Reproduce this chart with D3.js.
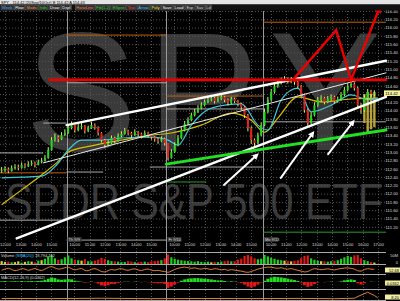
<!DOCTYPE html>
<html>
<head>
<meta charset="utf-8">
<script src="https://cdn.jsdelivr.net/npm/d3@7"></script>
<style>
body { margin: 0; background: #000; overflow: hidden; }
text { font-family: "Liberation Sans", Arial, sans-serif; }
</style>
</head>
<body>
<div id="chart"></div>
<script>
// ---- data (13-min bars, 4 sessions) ----
const closes = [
  // day 0
  112.57,112.59,112.54,112.62,112.64,112.62,112.69,112.66,112.71,112.74,112.69,112.76,112.79,112.86,113.05,113.29,113.36,113.31,113.41,113.46,
  // day 1
  113.58,113.65,113.53,113.60,113.63,113.51,113.58,113.65,113.60,113.46,113.29,113.17,113.22,113.34,113.27,113.39,113.44,113.51,113.46,113.41,
  113.48,113.44,113.39,113.46,113.41,113.36,113.32,113.27,113.32,113.22,
  // day 2
  112.86,113.00,113.17,113.34,113.53,113.68,113.77,113.89,113.97,114.06,114.13,114.21,114.26,114.30,114.23,114.28,114.33,114.26,114.18,114.28,
  114.23,114.16,114.09,113.89,113.58,113.29,113.22,113.41,113.65,
  // day 3
  113.97,114.26,114.45,114.59,114.67,114.74,114.76,114.71,114.74,114.69,114.59,114.38,114.01,113.70,113.89,114.13,114.26,114.30,114.21,114.28,
  114.33,114.23,114.28,114.38,114.50,114.59,114.64,114.54,114.13,114.01,114.30,114.45,114.40,114.42
];
const highs = [
  112.64,112.66,112.63,112.68,112.71,112.70,112.75,112.73,112.78,112.80,112.77,112.82,112.86,112.93,113.12,113.36,113.45,113.40,113.48,113.55,
  113.66,113.74,113.67,113.68,113.70,113.65,113.64,113.73,113.69,113.62,113.48,113.32,113.29,113.40,113.37,113.45,113.50,113.58,113.54,113.49,
  113.55,113.51,113.47,113.52,113.49,113.44,113.39,113.35,113.38,113.35,
  113.05,113.07,113.24,113.41,113.60,113.75,113.84,113.95,114.04,114.13,114.20,114.27,114.32,114.37,114.33,114.34,114.40,114.35,114.29,114.33,
  114.31,114.26,114.19,114.11,113.92,113.62,113.33,113.47,113.72,
  114.05,114.33,114.52,114.66,114.74,114.80,114.83,114.80,114.81,114.78,114.72,114.62,114.41,114.05,113.96,114.20,114.33,114.37,114.33,114.35,
  114.39,114.36,114.34,114.45,114.57,114.66,114.72,114.68,114.58,114.18,114.37,114.52,114.50,114.49
];
const lows = [
  112.50,112.52,112.49,112.53,112.58,112.56,112.60,112.61,112.64,112.67,112.63,112.68,112.73,112.77,112.84,113.03,113.25,113.24,113.29,113.38,
  113.44,113.55,113.47,113.50,113.55,113.45,113.48,113.56,113.54,113.40,113.23,113.10,113.14,113.20,113.21,113.25,113.36,113.42,113.40,113.35,
  113.39,113.37,113.33,113.37,113.35,113.30,113.25,113.20,113.24,113.16,
  112.80,112.84,112.98,113.14,113.31,113.50,113.64,113.74,113.86,113.94,114.03,114.10,114.18,114.22,114.17,114.20,114.25,114.20,114.12,114.16,
  114.18,114.10,114.02,113.82,113.50,113.20,113.12,113.19,113.38,
  113.62,113.93,114.22,114.41,114.55,114.63,114.68,114.65,114.66,114.62,114.53,114.32,113.95,113.62,113.66,113.86,114.09,114.21,114.15,114.18,
  114.24,114.17,114.19,114.24,114.35,114.46,114.55,114.48,114.05,113.92,113.97,114.26,114.33,114.35
];
const volumes = [
  30,22,25,18,20,28,15,22,30,25,18,35,40,55,80,95,60,45,50,70,
  90,60,45,40,35,50,30,28,35,45,65,55,40,30,28,25,20,22,30,25,20,18,22,25,20,28,30,35,40,60,
  100,70,55,45,40,35,30,28,25,30,22,20,25,18,22,20,25,30,35,28,30,45,55,85,95,80,60,50,55,
  95,80,65,55,45,40,35,30,28,35,40,60,85,90,60,45,35,30,28,25,30,35,40,55,70,85,75,90,95,60,40,30,20,15
];
const oscValues = [
  40,55,65,50,35,45,60,55,40,50,62,48,38,55,75,85,70,55,60,72,
  78,60,45,55,62,40,35,52,60,45,25,20,35,50,42,55,60,48,40,52,58,45,38,50,55,42,35,40,30,25,
  15,30,50,65,75,80,72,65,70,60,55,65,58,50,60,55,45,52,40,48,42,35,30,20,15,25,40,55,65,
  75,80,78,70,65,72,60,55,62,50,40,30,20,25,45,60,55,48,52,58,50,45,55,62,68,70,65,55,35,30,50,60,55,52
];
const macdHist = [
  0.1,0.15,0.05,0.1,0.12,0.08,0.15,0.1,0.12,0.15,0.1,0.15,0.2,0.3,0.5,0.7,0.6,0.4,0.35,0.4,
  0.45,0.4,0.2,0.1,0.05,-0.1,-0.05,0.05,-0.05,-0.25,-0.5,-0.65,-0.5,-0.3,-0.3,-0.15,-0.05,0.05,0.05,-0.02,
  0.05,0.02,-0.05,0.02,-0.03,-0.1,-0.15,-0.2,-0.18,-0.3,
  -0.9,-0.7,-0.4,-0.1,0.2,0.4,0.5,0.55,0.6,0.6,0.55,0.5,0.45,0.4,0.3,0.25,0.25,0.15,0.05,0.1,
  0.05,-0.05,-0.15,-0.4,-0.7,-0.85,-0.7,-0.4,-0.1,
  0.2,0.5,0.7,0.8,0.75,0.7,0.6,0.5,0.4,0.3,0.15,-0.1,-0.5,-0.75,-0.6,-0.3,-0.1,0.0,-0.05,0.02,
  0.05,0.0,0.02,0.1,0.25,0.35,0.4,0.3,-0.2,-0.4,-0.2,0.0,0.05,0.02
];
const lastIdx = [0,15,30,45,60,75,90,100,106,108,110,112,113];
const lastVal = [12,10,14,9,11,10,12,9,14,50,80,45,20];

// moving averages [bar index, price]
const maSlow = [[0,111.73],[6,112.09],[12,112.45],[16.5,112.74],[20,113.00],[27,113.15],[36,113.29],[45,113.41],[51,113.46],
  [60,113.65],[69,113.94],[75,113.77],[79,113.48],[83,113.82],[89,114.33],[96,114.21],[105,114.28],[113,114.30]];
const maFast = [[0,112.38],[12,112.42],[16.5,112.69],[20,113.05],[24,113.29],[30,113.29],[36,113.34],[45,113.36],[50,113.29],
  [53,113.17],[57,113.65],[63,114.06],[72,114.16],[77,113.65],[80,113.53],[84,114.26],[89,114.54],[93,113.97],[99,114.13],
  [105,114.38],[110,114.26],[113,114.30]];

// drawn levels [fromBar, toBar, price]
const orangeLevels = [[0,20,112.50],[20,50,115.82],[50,79,114.35],[79,116,116.13]];
const grayLevels = [[0,13,112.98],[13,20,113.70],[0,20,111.36],[20,50,114.67],[20,31,112.52],[20,50,110.88],
  [50,79,114.04],[45,79,112.64],[79,116,113.73]];
const greenLevels = [[50,62,112.28],[79,116,111.07]];
const redLevel = [15,116,114.74];

// trend lines [bar0, price0, bar1, price1]
const thickWhite = [[20,113.65,116,115.20],[5,110.92,116,114.33]];
const thinWhite = [[13,112.74,116,114.91]];
const greenTrend = [[50,112.71,116,113.53]];
const redZigIdx = [88,101,105.5,114];
const redZigPrice = [114.74,115.94,114.74,116.47];
const whiteArrows = [[67.3,112.21,77.2,112.93],[84.4,112.38,94.0,113.46],[98.6,112.95,106.1,113.73]];

const tallIdx = [109,110,111,112];
const tallTop = [114.40,114.45,114.42,114.45];
const tallBottom = [113.70,113.45,113.55,113.60];

const priceTicks = [116.4,116.2,116.0,115.8,115.6,115.4,115.2,115.0,114.8,114.6,114.4,114.2,114.0,113.8,113.6,
  113.4,113.2,113.0,112.8,112.6,112.4,112.2,112.0,111.8,111.6,111.4,111.2];
const timeTickIdx = [1.5,6.2,10.8,15.4,22.3,26.9,31.5,36.2,40.8,45.4,52.3,56.9,61.5,66.2,70.8,75.4,
  81.3,85.9,90.5,95.2,99.8,104.4,109.0,113.6];
const timeTickLabels = ["12:00","13:00","14:00","15:00","10:00","11:00","12:00","13:00","14:00","15:00",
  "10:00","11:00","12:00","13:00","14:00","15:00","10:00","11:00","12:00","13:00","14:00","15:00","16:00","17:00"];
const dayStarts = [20,50,79];
const dayLabels = ["Th 9/9","Fr 9/10","Mo 9/13"];
const lastPrice = 114.42;

const buttons = ["Week","Flow","Mods","Inds","Draw","Dspl","HorizLine","Fib(1,2)","Ellipse","Text","Arrow","Poly","Save","Load","Exp","Sav","Ld"];
const buttonColors = ["#5af","#fff","#f93","#3d3","#fff","#fff","#f84","#3d3","#3d3","#f44","#3cf","#ee3","#fff","#fff","#ddd","#ddd","#ddd"];

// ---- chart ----
const svg = d3.select("#chart").append("svg").attr("width", 400).attr("height", 301);
svg.append("rect").attr("width", 400).attr("height", 301).attr("fill", "#000");

const x = d3.scaleLinear().domain([0, 116]).range([0, 386]);
const y = d3.scaleLinear().domain([116.4, 111.2]).range([11, 226.8]);
const xc = i => x(i + 0.5);

const defs = svg.append("defs");
defs.append("clipPath").attr("id", "plot").append("rect").attr("x", 0).attr("y", 10).attr("width", 386).attr("height", 231);
[["arrW", "#fff"], ["arrR", "#e00000"]].forEach(([id, c]) => {
    defs.append("marker").attr("id", id).attr("viewBox", "0 0 10 10").attr("refX", 6).attr("refY", 5)
        .attr("markerWidth", 3.2).attr("markerHeight", 3.2).attr("orient", "auto")
        .append("path").attr("d", "M0,0L10,5L0,10z").attr("fill", c);
});

// watermark
svg.append("text").text("SPY").attr("x", 208).attr("y", 150).attr("text-anchor", "middle")
    .attr("font-size", 168).attr("letter-spacing", 10).attr("fill", "#3a3a3a");
svg.append("text").text("SPDR S&P 500 ETF").attr("x", 5).attr("y", 219)
    .attr("font-size", 50).attr("textLength", 378).attr("lengthAdjust", "spacingAndGlyphs").attr("fill", "#3a3a3a");

// grid
const grid = svg.append("g");
grid.selectAll(".hg").data(priceTicks).enter().append("line")
    .attr("x1", 0).attr("x2", 386).attr("y1", d => y(d) + 0.5).attr("y2", d => y(d) + 0.5)
    .attr("stroke", "#555").attr("stroke-dasharray", "1,2");
grid.selectAll(".vg").data(timeTickIdx).enter().append("line")
    .attr("x1", d => Math.round(x(d)) + 0.5).attr("x2", d => Math.round(x(d)) + 0.5).attr("y1", 11).attr("y2", 301)
    .attr("stroke", "#555").attr("stroke-dasharray", "1,2");
grid.selectAll(".ds").data(dayStarts).enter().append("line")
    .attr("x1", d => Math.round(x(d)) + 0.5).attr("x2", d => Math.round(x(d)) + 0.5).attr("y1", 11).attr("y2", 301)
    .attr("stroke", "#9a9a9a");

const main = svg.append("g").attr("clip-path", "url(#plot)");

function levels(arr, color, w) {
    main.append("g").selectAll("line").data(arr).enter().append("line")
        .attr("x1", d => x(d[0])).attr("x2", d => x(d[1]))
        .attr("y1", d => y(d[2])).attr("y2", d => y(d[2]))
        .attr("stroke", color).attr("stroke-width", w);
}
levels(orangeLevels, "#c0600a", 1);
levels(grayLevels, "#aaa", 1);
levels(greenLevels, "#2a9a2a", 1);

// tall yellow bars at the right
main.append("g").selectAll("rect").data(tallIdx).enter().append("rect")
    .attr("x", d => xc(d) - 1.2).attr("width", 2.4)
    .attr("y", (d, i) => y(tallTop[i])).attr("height", (d, i) => y(tallBottom[i]) - y(tallTop[i]))
    .attr("fill", "#b8a23a");

// moving averages
const maLine = d3.line().x(d => xc(d[0])).y(d => y(d[1])).curve(d3.curveMonotoneX);
main.append("path").attr("d", maLine(maSlow)).attr("fill", "none").attr("stroke", "#d8c000").attr("stroke-width", 1.2);
main.append("path").attr("d", maLine(maFast)).attr("fill", "none").attr("stroke", "#40c8d8").attr("stroke-width", 1.2);

// candles
const bars = main.append("g");
closes.forEach((c, i) => {
    const o = i === 0 ? c : closes[i - 1];
    bars.append("line").attr("x1", xc(i)).attr("x2", xc(i)).attr("y1", y(highs[i])).attr("y2", y(lows[i]))
        .attr("stroke", "#d8ec6a").attr("stroke-width", 1);
    bars.append("rect").attr("x", xc(i) - 1).attr("width", 2)
        .attr("y", y(Math.max(o, c))).attr("height", Math.max(1, Math.abs(y(o) - y(c))))
        .attr("fill", c >= o ? "#22d822" : "#e42020");
});

// trend lines
function segs(arr, color, w, marker) {
    const s = svg.append("g").selectAll("line").data(arr).enter().append("line")
        .attr("x1", d => x(d[0])).attr("y1", d => y(d[1])).attr("x2", d => x(d[2])).attr("y2", d => y(d[3]))
        .attr("stroke", color).attr("stroke-width", w).attr("stroke-linecap", "round");
    if (marker) s.attr("marker-end", `url(#${marker})`);
}
segs(thinWhite, "#e8e8e8", 1);
segs(thickWhite, "#fff", 2.4);
segs(greenTrend, "#22e022", 3);
segs([[redLevel[0], redLevel[2], redLevel[1], redLevel[2]]], "#ee0000", 2.6);
svg.append("path")
    .attr("d", d3.line().x(d => x(d[0])).y(d => y(d[1]))(redZigIdx.map((d, i) => [d, redZigPrice[i]])))
    .attr("fill", "none").attr("stroke", "#ee0000").attr("stroke-width", 2.4).attr("marker-end", "url(#arrR)");
segs(whiteArrows, "#fff", 2, "arrW");

// right price axis
const yAxis = svg.append("g").attr("transform", "translate(398,0)")
    .call(d3.axisLeft(y).tickValues(priceTicks).tickFormat(d3.format(".2f")).tickSize(0).tickPadding(0));
yAxis.select(".domain").remove();
yAxis.selectAll("text").attr("fill", "#ddd").attr("font-size", 4.3).attr("font-family", "Liberation Sans, Arial");
svg.append("rect").attr("x", 384).attr("y", y(lastPrice) - 2.8).attr("width", 16).attr("height", 5.6).attr("fill", "#f2f0a0");
svg.append("text").attr("x", 398).attr("y", y(lastPrice) + 1.6).attr("text-anchor", "end")
    .attr("font-size", 4.3).attr("fill", "#000").text(d3.format(".2f")(lastPrice));

// time axis
const xAxis = svg.append("g").attr("transform", "translate(0,243)")
    .call(d3.axisBottom(x).tickValues(timeTickIdx).tickFormat((d, i) => timeTickLabels[i]).tickSize(0).tickPadding(0));
xAxis.select(".domain").remove();
xAxis.selectAll("text").attr("fill", "#ddd").attr("font-size", 4.3).attr("font-family", "Liberation Sans, Arial");
dayStarts.forEach((d, i) => {
    svg.append("rect").attr("x", x(d) + 1).attr("y", 237).attr("width", 14).attr("height", 5).attr("fill", "#333");
    svg.append("text").attr("x", x(d) + 2).attr("y", 241).attr("font-size", 4).attr("fill", "#ddd").text(dayLabels[i]);
});

// indicator panels
[252.5, 264.5, 274.5, 289.5, 300.5].forEach(v => {
    svg.append("line").attr("x1", 0).attr("x2", 386).attr("y1", v).attr("y2", v).attr("stroke", "#aaa").attr("stroke-width", 1);
});
const yVol = d3.scaleLinear().domain([0, 100]).range([264, 254.5]);
svg.append("g").selectAll("rect").data(volumes).enter().append("rect")
    .attr("x", (d, i) => xc(i) - 1.1).attr("width", 2.2)
    .attr("y", d => yVol(d)).attr("height", d => yVol(0) - yVol(d))
    .attr("fill", (d, i) => {
        const ch = i === 0 ? 0 : closes[i] - closes[i - 1];
        return ch > 0.04 ? "#22cc22" : ch < -0.04 ? "#dd1a1a" : "#d8d030";
    });
svg.append("text").attr("x", 1).attr("y", 257).attr("font-size", 4).attr("fill", "#ddd")
    .text("Volume ").append("tspan").attr("fill", "#3cf").text("(SMA(20)) ").append("tspan").attr("fill", "#ddd").text("18,794,112");

const yOsc = d3.scaleLinear().domain([0, 100]).range([273.5, 265.5]);
svg.append("path").attr("d", d3.line().x((d, i) => xc(i)).y(d => yOsc(d)).curve(d3.curveCatmullRom)(oscValues))
    .attr("fill", "none").attr("stroke", "#e0803a").attr("stroke-width", 1);

const yMacd = d3.scaleLinear().domain([-1, 1]).range([288.5, 275.5]);
svg.append("g").selectAll("rect").data(macdHist).enter().append("rect")
    .attr("x", (d, i) => xc(i) - 1.5).attr("width", 3)
    .attr("y", d => yMacd(Math.max(0, d))).attr("height", d => Math.abs(yMacd(d) - yMacd(0)))
    .attr("fill", d => d >= 0 ? "#22dd22" : "#e01818");
svg.append("text").attr("x", 1).attr("y", 279).attr("font-size", 4).attr("fill", "#ddd").text("MACD(12,26,9) (0.0362)");

const yLast = d3.scaleLinear().domain([0, 100]).range([299.5, 290.5]);
svg.append("path").attr("d", d3.line().x(d => xc(d[0])).y(d => yLast(d[1]))(lastIdx.map((d, i) => [d, lastVal[i]])))
    .attr("fill", "none").attr("stroke", "#e0803a").attr("stroke-width", 1);

[[270, "52.68"], [283, "0.0362"], [297, "8.20"]].forEach(([v, t]) => {
    svg.append("rect").attr("x", 385).attr("y", v - 2.5).attr("width", 15).attr("height", 5).attr("fill", "#f2f0a0");
    svg.append("text").attr("x", 399).attr("y", v + 1.5).attr("text-anchor", "end").attr("font-size", 4).attr("fill", "#000").text(t);
});
svg.append("text").attr("x", 398).attr("y", 257).attr("text-anchor", "end").attr("font-size", 4).attr("fill", "#ddd").text("50M");
svg.append("text").attr("x", 398).attr("y", 264).attr("text-anchor", "end").attr("font-size", 4).attr("fill", "#ddd").text("0");

// header
svg.append("rect").attr("width", 400).attr("height", 4.5).attr("fill", "#e4e4e4");
svg.append("text").attr("x", 1).attr("y", 3.8).attr("font-size", 4).attr("fill", "#000")
    .text("SPY - 114.42 (20Sep/10Oct) B 114.42 A 114.43");
svg.append("rect").attr("y", 4.5).attr("width", 400).attr("height", 6).attr("fill", "#111");
let bx = 1;
buttons.forEach((b, i) => {
    const g = svg.append("g");
    const r = g.append("rect").attr("x", bx).attr("y", 5).attr("height", 5).attr("fill", "#2a2a2a").attr("stroke", "#777").attr("stroke-width", 0.4);
    const t = g.append("text").attr("x", bx + 1).attr("y", 9.2).attr("font-size", 4).attr("fill", buttonColors[i]).text(b);
    const w = t.node().getComputedTextLength() + 2;
    r.attr("width", w);
    bx += w + (i === 5 ? 4 : 1);
});
</script>
</body>
</html>
